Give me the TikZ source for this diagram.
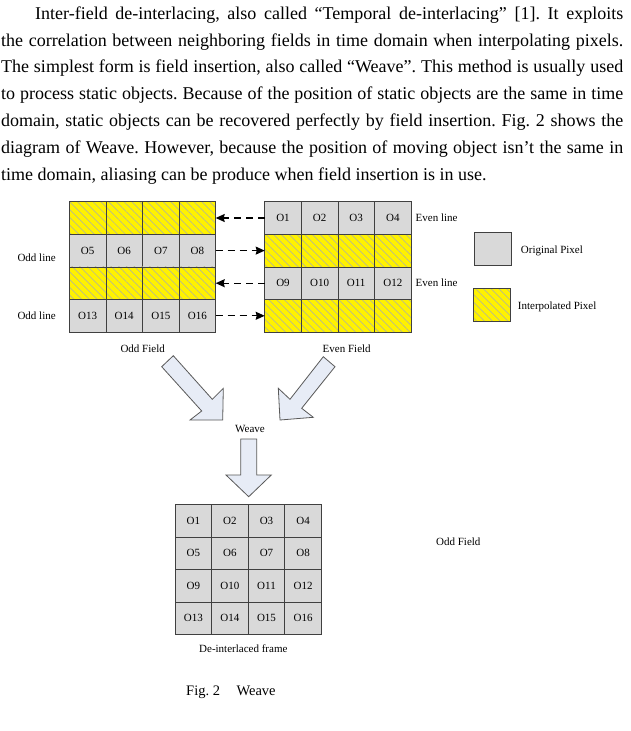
\documentclass[tikz,border=0pt]{standalone}
\usepackage{fontspec}
\setmainfont{Liberation Serif}
\usetikzlibrary{arrows.meta,patterns.meta,positioning}
\definecolor{pixgray}{HTML}{D9D9D9}
\definecolor{gridline}{HTML}{404040}
\definecolor{hatch}{HTML}{B9B98F}
\definecolor{arrowfill}{HTML}{E7ECF6}
\frenchspacing

\begin{document}
\begin{tikzpicture}[x=1pt,y=-1pt,
  pix/.style={draw=gridline,line width=0.8pt,minimum width=36.6pt,minimum height=32.6pt,inner sep=0pt,outer sep=0pt,font=\fontsize{11}{13}\selectfont},
  orig/.style={pix,fill=pixgray},
  interp/.style={pix,preaction={fill=yellow},pattern={Lines[angle=-45,distance=5.5pt,line width=0.7pt]},pattern color=hatch},
  lbl/.style={font=\fontsize{11}{13}\selectfont,inner sep=0pt},
  copyline/.style={-{Stealth[length=9pt,width=8pt,inset=1pt]},dash pattern=on 7pt off 5pt,line width=1.2pt},
  bigarrow/.style={draw=gray!70!black,fill=arrowfill,line width=0.8pt,line join=miter},
  para/.style={font=\fontsize{18}{21}\selectfont,inner sep=0pt,anchor=base west}]
\useasboundingbox (0,0) rectangle (630,731);

\node[para] (line-1) at (35,19.3) {\makebox[588pt][s]{Inter-field de-interlacing, also called “Temporal de-interlacing” [1]. It exploits}};
\node[para] (line-2) at (1,46.1) {\makebox[622pt][s]{the correlation between neighboring fields in time domain when interpolating pixels.}};
\node[para] (line-3) at (1,72.9) {\makebox[622pt][s]{The simplest form is field insertion, also called “Weave”. This method is usually used}};
\node[para] (line-4) at (1,99.7) {\makebox[622pt][s]{to process static objects. Because of the position of static objects are the same in time}};
\node[para] (line-5) at (1,126.5) {\makebox[622pt][s]{domain, static objects can be recovered perfectly by field insertion. Fig. 2 shows the}};
\node[para] (line-6) at (1,153.3) {\makebox[622pt][s]{diagram of Weave. However, because the position of moving object isn’t the same in}};
\node[para] (line-7) at (1,180.1) {time domain, aliasing can be produce when field insertion is in use.};

\foreach \r in {1,...,4}
\foreach \c in {1,...,4} {
  \pgfmathtruncatemacro\n{4*\r-4+\c}
  \ifodd\r
    \node[interp] (odd-\r-\c) at (69.3+36.6*\c-18.3,201.7+32.6*\r-16.3) {};
    \node[orig] (even-\r-\c) at (264.7+36.6*\c-18.3,201.7+32.6*\r-16.3) {O\n};
  \else
    \node[orig] (odd-\r-\c) at (69.3+36.6*\c-18.3,201.7+32.6*\r-16.3) {O\n};
    \node[interp] (even-\r-\c) at (264.7+36.6*\c-18.3,201.7+32.6*\r-16.3) {};
  \fi
  \node[orig] (frame-\r-\c) at (175+36.6*\c-18.3,504.3+32.6*\r-16.3) {O\n};
}

\foreach \r in {1,3}
\draw[copyline] (even-\r-1.west) -- (odd-\r-4.east);
\foreach \r in {2,4}
\draw[copyline] (odd-\r-4.east) -- (even-\r-1.west);

\node[lbl] (oddline-a) at (36.6,257.3) {Odd line};
\node[lbl] (oddline-b) at (36.6,316) {Odd line};
\node[lbl,right=4.4pt of even-1-4] (evenline-a) {Even line};
\node[lbl,right=4.4pt of even-3-4] (evenline-b) {Even line};
\node[lbl] (oddfield) at (142.7,348.3) {Odd Field};
\node[lbl] (evenfield) at (346.7,348.3) {Even Field};

\node[orig,minimum width=37.4pt,minimum height=32.6pt] (key-orig) at (493,249) {};
\node[lbl,anchor=west] (key-orig-text) at (520.7,250.7) {Original Pixel};
\node[interp,minimum width=37pt,minimum height=32.7pt] (key-interp) at (491.8,304.7) {};
\node[lbl,anchor=west] (key-interp-text) at (517.7,306.7) {Interpolated Pixel};

\draw[bigarrow] (173.3,355.7) -- (212.3,399.3) -- (223.3,388.3) -- (222.7,420) -- (190,420) -- (201.7,411) -- (161.7,366.7) -- cycle;
\draw[bigarrow] (323.3,356.7) -- (290,399.3) -- (278.3,388.3) -- (280,420) -- (313.3,417.3) -- (301.7,408.3) -- (335,366.7) -- cycle;
\node[lbl] (weave) at (250,429.3) {Weave};
\draw[bigarrow] (240.7,439) -- (256.7,439) -- (256.7,475) -- (271.3,475) -- (248.7,496.7) -- (226,475) -- (240.7,475) -- cycle;

\node[lbl] (stray-label) at (458.3,541.7) {Odd Field};
\node[lbl] (frame-label) at (243.3,649) {De-interlaced frame};
\node[font=\fontsize{14.5}{17}\selectfont,inner sep=0pt,anchor=base west] (caption) at (186,695) {Fig. 2\hspace{16.5pt}Weave};
\end{tikzpicture}
\end{document}
